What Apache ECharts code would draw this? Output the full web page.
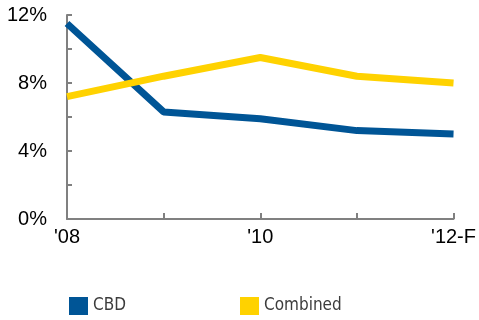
<!DOCTYPE html>
<html><head><meta charset="utf-8">
<script src="https://cdn.jsdelivr.net/npm/echarts@6/dist/echarts.min.js"></script>
<style>html,body{margin:0;padding:0;background:#fff}#c{width:479px;height:320px}</style>
</head><body><div id="c"></div>
<script>
const categories = ["'08", "'09", "'10", "'11", "'12-F"];
const cbd = [11.5, 6.3, 5.9, 5.2, 5.0];
const combined = [7.2, 8.4, 9.5, 8.4, 8.0];
const yTicks = [0, 4, 8, 12];

const chart = echarts.init(document.getElementById('c'), null, {renderer: 'canvas'});
const axisColor = '#808080';
const legendText = {fontFamily: 'DejaVu Sans Condensed, Liberation Sans Narrow, sans-serif', fontSize: 17, color: '#3c3c3c', padding: [2, 0, 0, 0]};
chart.setOption({
  animation: false,
  grid: {left: 67, right: 23, top: 15, bottom: 101},
  legend: [
    {left: 69, top: 297, padding: 0, itemWidth: 19, itemHeight: 18, itemGap: 4, icon: 'rect',
     textStyle: legendText, data: ['CBD']},
    {left: 240, top: 297, padding: 0, itemWidth: 19, itemHeight: 18, itemGap: 4, icon: 'rect',
     textStyle: legendText, data: ['Combined']}
  ],
  xAxis: {
    type: 'category', data: categories, boundaryGap: false,
    axisLine: {lineStyle: {color: axisColor, width: 2}},
    axisTick: {inside: true, length: 6, lineStyle: {color: axisColor, width: 2}, interval: 0},
    axisLabel: {interval: 1, margin: 8, color: '#000', fontSize: 20, fontFamily: 'Liberation Sans, Arial, sans-serif'}
  },
  yAxis: {
    type: 'value', min: 0, max: 12, interval: 2,
    splitLine: {show: false},
    axisLine: {show: true, lineStyle: {color: axisColor, width: 2}},
    axisTick: {show: true, inside: true, length: 5, lineStyle: {color: axisColor, width: 2}},
    axisLabel: {margin: 20, color: '#000', fontSize: 20, fontFamily: 'Liberation Sans, Arial, sans-serif',
      formatter: v => yTicks.indexOf(v) >= 0 ? v + '%' : ''}
  },
  series: [
    {name: 'CBD', type: 'line', data: cbd, showSymbol: false, symbol: 'none',
     itemStyle: {color: '#005596'}, lineStyle: {color: '#005596', width: 7}},
    {name: 'Combined', type: 'line', data: combined, showSymbol: false, symbol: 'none',
     itemStyle: {color: '#FFD200'}, lineStyle: {color: '#FFD200', width: 7}}
  ]
});
</script></body></html>
